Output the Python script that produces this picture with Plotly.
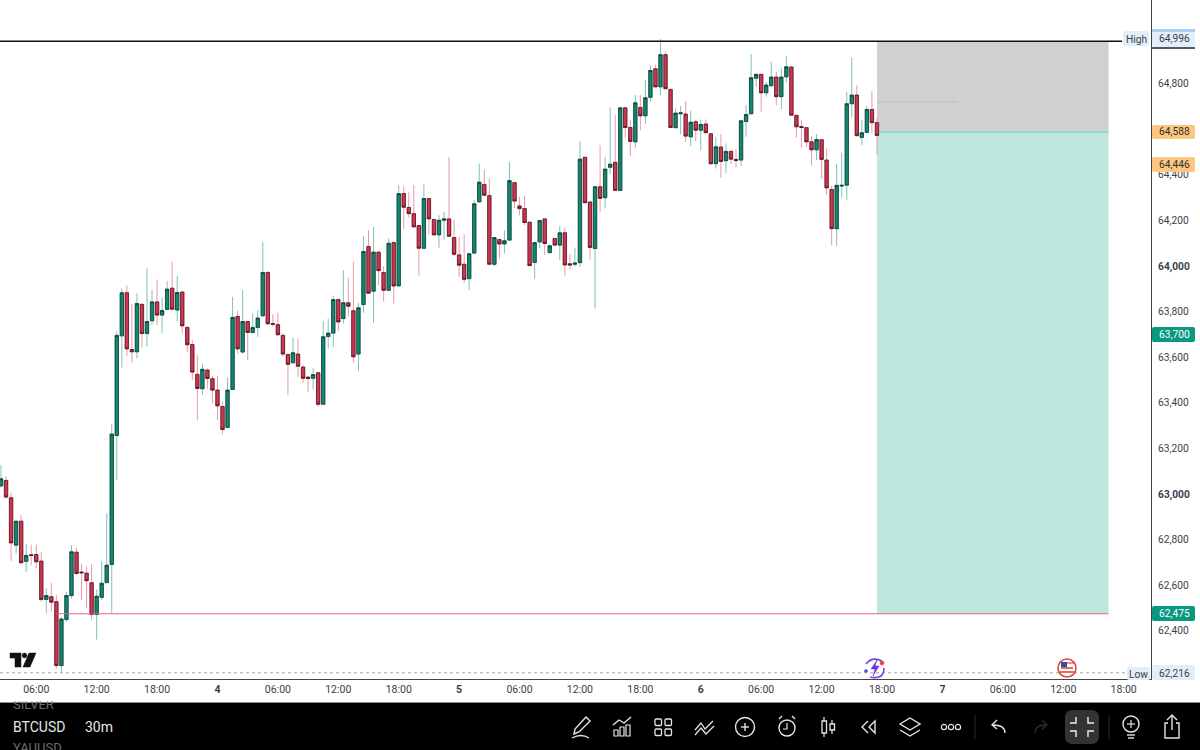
import pandas as pd
import plotly.graph_objects as go

# BTCUSD 30m, values
first_bar = "2024-10-03 02:30"

opens = [63036, 63060, 62984, 62776, 62881, 62705, 62734, 62735, 62706, 62538, 62550, 62528, 62248, 62450, 62555,
         62745, 62658, 62653, 62611, 62472, 62547, 62612, 62691, 63257, 63694, 63883, 63634, 63624, 63832, 63704,
         63760, 63843, 63785, 63810, 63903, 63807, 63886, 63731, 63656, 63525, 63462, 63544, 63506, 63456, 63384,
         63292, 63459, 63779, 63623, 63757, 63709, 63731, 63782, 63972, 63748, 63743, 63696, 63612, 63576, 63614,
         63557, 63513, 63508, 63532, 63394, 63691, 63706, 63853, 63770, 63839, 63804, 63614, 63831, 64086, 63890,
         64061, 63972, 63894, 64103, 63913, 64318, 64257, 64230, 64178, 64078, 64296, 64204, 64137, 64201, 64207,
         64125, 64049, 64008, 63945, 64057, 64282, 64358, 64309, 64008, 64116, 64097, 64114, 64366, 64264, 64252,
         64192, 64016, 64106, 64207, 64059, 64121, 64092, 64146, 64010, 64008, 64015, 64477, 64281, 64077, 64348,
         64300, 64433, 64455, 64332, 64694, 64608, 64545, 64696, 64659, 64740, 64865, 64786, 64927, 64775, 64607,
         64668, 64667, 64567, 64633, 64596, 64623, 64580, 64449, 64522, 64462, 64503, 64468, 64465, 64634, 64668,
         64824, 64841, 64760, 64791, 64829, 64743, 64830, 64873, 64661, 64612, 64607, 64545, 64510, 64554, 64465,
         64336, 64164, 64351, 64355, 64712, 64750, 64564, 64586, 64687, 64629]
highs = [63127, 63079, 63006, 62883, 62908, 62781, 62778, 62778, 62747, 62586, 62611, 62557, 62462, 62571, 62776,
         62764, 62693, 62681, 62693, 62582, 62706, 62915, 63307, 63715, 63902, 63915, 63833, 63880, 63836, 63990,
         63897, 63941, 63862, 63935, 64019, 63956, 63889, 63737, 63675, 63609, 63573, 63551, 63517, 63517, 63405,
         63512, 63865, 63804, 63895, 63759, 63792, 63807, 64105, 63979, 63789, 63795, 63707, 63617, 63685, 63682,
         63565, 63517, 63551, 63535, 63760, 63770, 63869, 63858, 63982, 63948, 64019, 63839, 64131, 64157, 64172,
         64065, 64000, 64121, 64109, 64355, 64350, 64323, 64355, 64179, 64359, 64299, 64209, 64223, 64238, 64479,
         64204, 64128, 64140, 64058, 64289, 64450, 64423, 64384, 64125, 64121, 64157, 64457, 64369, 64304, 64308,
         64198, 64106, 64201, 64210, 64093, 64124, 64176, 64169, 64052, 64081, 64548, 64479, 64282, 64348, 64531,
         64479, 64696, 64662, 64696, 64699, 64640, 64750, 64750, 64816, 64881, 64884, 64996, 64940, 64776, 64691,
         64702, 64724, 64680, 64640, 64643, 64643, 64582, 64567, 64579, 64538, 64509, 64512, 64637, 64706, 64930,
         64845, 64842, 64808, 64896, 64852, 64871, 64921, 64877, 64662, 64640, 64611, 64570, 64579, 64555, 64516,
         64351, 64447, 64497, 64765, 64915, 64794, 64640, 64702, 64767, 64648]
lows = [63029, 62981, 62707, 62740, 62696, 62659, 62688, 62674, 62528, 62476, 62484, 62235, 62216, 62440, 62542,
        62645, 62535, 62498, 62450, 62362, 62535, 62608, 62479, 63061, 63555, 63605, 63576, 63595, 63642, 63646,
        63741, 63741, 63707, 63807, 63807, 63756, 63704, 63624, 63500, 63324, 63434, 63463, 63397, 63324, 63263,
        63288, 63456, 63617, 63617, 63588, 63704, 63690, 63778, 63745, 63734, 63693, 63602, 63434, 63573, 63514,
        63489, 63448, 63459, 63383, 63390, 63638, 63646, 63714, 63748, 63780, 63576, 63540, 63795, 63880, 63752,
        63916, 63846, 63891, 63836, 63912, 64163, 64213, 64169, 63956, 64076, 64140, 64134, 64081, 64116, 64128,
        64043, 63953, 63926, 63894, 64052, 64277, 64308, 64005, 64000, 64033, 64055, 64111, 64255, 64223, 64179,
        64000, 63945, 64077, 64048, 64055, 64089, 64026, 63957, 63985, 63997, 63997, 64275, 64029, 63814, 64238,
        64253, 64403, 64330, 64330, 64564, 64482, 64520, 64596, 64623, 64721, 64784, 64750, 64775, 64605, 64604,
        64579, 64545, 64526, 64548, 64506, 64582, 64446, 64428, 64387, 64409, 64447, 64433, 64439, 64567, 64667,
        64786, 64677, 64743, 64786, 64706, 64687, 64804, 64659, 64564, 64520, 64523, 64440, 64465, 64384, 64311,
        64092, 64088, 64301, 64289, 64652, 64570, 64531, 64582, 64582, 64490]
closes = [63067, 62987, 62786, 62881, 62699, 62731, 62731, 62703, 62538, 62555, 62526, 62248, 62452, 62555, 62747,
          62652, 62655, 62620, 62472, 62552, 62609, 62688, 63263, 63696, 63883, 63637, 63624, 63836, 63704, 63757,
          63843, 63785, 63805, 63899, 63811, 63884, 63738, 63655, 63535, 63463, 63547, 63507, 63456, 63387, 63283,
          63456, 63775, 63637, 63757, 63709, 63731, 63772, 63972, 63747, 63745, 63699, 63614, 63569, 63620, 63561,
          63508, 63507, 63524, 63394, 63690, 63706, 63853, 63755, 63839, 63824, 63602, 63817, 64064, 63881, 64061,
          63980, 63894, 64100, 63913, 64318, 64258, 64230, 64172, 64078, 64296, 64207, 64137, 64201, 64207, 64131,
          64052, 64004, 63942, 64054, 64273, 64368, 64311, 64008, 64125, 64097, 64111, 64375, 64285, 64252, 64191,
          64002, 64103, 64200, 64099, 64089, 64092, 64146, 64005, 64005, 64013, 64469, 64278, 64082, 64348, 64297,
          64425, 64447, 64332, 64694, 64608, 64547, 64716, 64659, 64738, 64858, 64786, 64927, 64778, 64608, 64671,
          64672, 64570, 64631, 64596, 64621, 64585, 64449, 64523, 64459, 64503, 64469, 64463, 64637, 64665, 64826,
          64841, 64760, 64794, 64829, 64743, 64829, 64874, 64662, 64611, 64608, 64545, 64510, 64555, 64468, 64343,
          64164, 64354, 64354, 64712, 64750, 64572, 64585, 64687, 64629, 64573]

# axis labels
price_ticks = [65000, 64800, 64600, 64400, 64200, 64000, 63800, 63600, 63400, 63200, 63000, 62800, 62600, 62400]
time_ticks = ["2024-10-03 06:00", "2024-10-03 12:00", "2024-10-03 18:00", "2024-10-04 00:00", "2024-10-04 06:00",
              "2024-10-04 12:00", "2024-10-04 18:00", "2024-10-05 00:00", "2024-10-05 06:00", "2024-10-05 12:00",
              "2024-10-05 18:00", "2024-10-06 00:00", "2024-10-06 06:00", "2024-10-06 12:00", "2024-10-06 18:00",
              "2024-10-07 00:00", "2024-10-07 06:00", "2024-10-07 12:00", "2024-10-07 18:00"]
time_labels = ["06:00", "12:00", "18:00", "4", "06:00", "12:00", "18:00", "5", "06:00", "12:00",
               "18:00", "6", "06:00", "12:00", "18:00", "7", "06:00", "12:00", "18:00"]

# levels of the position tool
top_level = 64986
entry_level = 64588
target_level = 62475
low_level = 62216
tool_start = "2024-10-06 17:30"
tool_end = "2024-10-07 16:30"

GREEN = "#14866f"
RED = "#d23550"
FONT = "Roboto"
TEXT = "#3b3e47"

# plot area in screen pixels, used for the toolbar drawings
W_PLOT = 1151
H_PLOT = 679


def px(x):
    return x / W_PLOT


def py(y):
    return (H_PLOT - y) / H_PLOT


times = pd.date_range(first_bar, periods=len(opens), freq="30min")
body_hi = [max(o, c) for o, c in zip(opens, closes)]
body_lo = [min(o, c) for o, c in zip(opens, closes)]

fig = go.Figure()
# wicks, pale
fig.add_trace(go.Candlestick(
    x=times, open=opens, high=highs, low=lows, close=closes,
    whiskerwidth=0,
    increasing=dict(line=dict(color="#7cc4b6", width=1), fillcolor=GREEN),
    decreasing=dict(line=dict(color="#e79aa8", width=1), fillcolor=RED),
    showlegend=False, hoverinfo="skip",
))
# bodies with the dark outline
fig.add_trace(go.Candlestick(
    x=times, open=opens, high=body_hi, low=body_lo, close=closes,
    whiskerwidth=0,
    increasing=dict(line=dict(color="#10302a", width=0.7), fillcolor=GREEN),
    decreasing=dict(line=dict(color="#3a1018", width=0.7), fillcolor=RED),
    showlegend=False,
))

shapes = []
notes = []


def path(pts, color="#e6e6e6", width=1.4, fill=None, close=False):
    d = "M" + " L".join(f"{px(x):.5f},{py(y):.5f}" for x, y in pts) + (" Z" if close else "")
    shapes.append(dict(type="path", path=d, xref="paper", yref="paper", layer="above",
                       line=dict(color=color, width=width), fillcolor=fill))


def curve(x0, y0, cx, cy, x1, y1, color="#e6e6e6", width=1.4):
    d = f"M{px(x0):.5f},{py(y0):.5f} Q{px(cx):.5f},{py(cy):.5f} {px(x1):.5f},{py(y1):.5f}"
    shapes.append(dict(type="path", path=d, xref="paper", yref="paper", layer="above",
                       line=dict(color=color, width=width)))


def circle(cx, cy, r, color="#e6e6e6", width=1.4, fill=None):
    shapes.append(dict(type="circle", xref="paper", yref="paper", layer="above",
                       x0=px(cx - r), x1=px(cx + r), y0=py(cy + r), y1=py(cy - r),
                       line=dict(color=color, width=width), fillcolor=fill))


def rect(x0, y0, x1, y1, fill, color=None, width=0):
    shapes.append(dict(type="rect", xref="paper", yref="paper", layer="above",
                       x0=px(x0), x1=px(x1), y0=py(y1), y1=py(y0),
                       line=dict(color=color or fill, width=width), fillcolor=fill))


def rrect(x0, y0, x1, y1, r, fill=None, color=None, width=0):
    d = (f"M{px(x0 + r):.5f},{py(y0):.5f} L{px(x1 - r):.5f},{py(y0):.5f} "
         f"Q{px(x1):.5f},{py(y0):.5f} {px(x1):.5f},{py(y0 + r):.5f} L{px(x1):.5f},{py(y1 - r):.5f} "
         f"Q{px(x1):.5f},{py(y1):.5f} {px(x1 - r):.5f},{py(y1):.5f} L{px(x0 + r):.5f},{py(y1):.5f} "
         f"Q{px(x0):.5f},{py(y1):.5f} {px(x0):.5f},{py(y1 - r):.5f} L{px(x0):.5f},{py(y0 + r):.5f} "
         f"Q{px(x0):.5f},{py(y0):.5f} {px(x0 + r):.5f},{py(y0):.5f} Z")
    shapes.append(dict(type="path", path=d, xref="paper", yref="paper", layer="above",
                       line=dict(color=color or fill or "#e6e6e6", width=width), fillcolor=fill))


def note(x, y, text, color=TEXT, size=10.2, anchor="center", **kw):
    notes.append(dict(x=px(x), y=py(y), xref="paper", yref="paper", text=text, showarrow=False,
                      xanchor=anchor, yanchor="middle", font=dict(family=FONT, size=size, color=color), **kw))


# position tool, behind the candles
fig.add_shape(type="rect", xref="x", yref="y", x0=tool_start, x1=tool_end, y0=entry_level, y1=top_level,
              fillcolor="#d0d0d0", line_width=0, layer="below")
fig.add_shape(type="rect", xref="x", yref="y", x0=tool_start, x1=tool_end, y0=target_level, y1=entry_level,
              fillcolor="#bfe6df", line_width=0, layer="below")
fig.add_shape(type="line", xref="x", yref="y", x0=tool_start, x1=tool_end, y0=entry_level, y1=entry_level,
              line=dict(color="#8fd3c6", width=1.5), layer="below")
fig.add_shape(type="line", xref="x", yref="y", x0=tool_start, x1="2024-10-07 01:30", y0=64720, y1=64720,
              line=dict(color="#bdbdbd", width=1), layer="below")
# level lines
fig.add_shape(type="line", xref="paper", yref="y", x0=0, x1=px(1122), y0=top_level, y1=top_level,
              line=dict(color="#111111", width=1.5))
fig.add_shape(type="line", xref="x", yref="y", x0="2024-10-03 08:00", x1=tool_end, y0=target_level, y1=target_level,
              line=dict(color="#dd6392", width=1.1))
fig.add_shape(type="line", xref="paper", yref="y", x0=0, x1=px(1127), y0=low_level, y1=low_level,
              line=dict(color="#a8a8a8", width=1, dash="dot"))

# price labels on the axis
rrect(1123, 31, 1149, 46, 2, fill="#e3eefb")
note(1136, 39, "High")
rrect(1152, 29, 1195, 47, 2, fill="#e3eefb")
rect(1152, 29, 1195, 32, "#a9cdf5")
path([(1152, 48), (1195, 48)], color="#222222", width=1.5)
note(1174, 38, "64,996")
rrect(1152, 125, 1195, 139, 2, fill="#fdc77f")
note(1174, 132, "64,588", color="#33302a")
rrect(1152, 157, 1195, 172, 2, fill="#fdc77f")
note(1174, 164, "64,446", color="#33302a")
rrect(1152, 327, 1195, 342, 2, fill="#089981")
note(1174, 334.5, "63,700", color="#ffffff")
rrect(1152, 606, 1195, 621, 2, fill="#089981")
note(1174, 613.5, "62,475", color="#ffffff")
rrect(1127, 667, 1150, 680, 2, fill="#e3eefb")
note(1138, 674, "Low")
rrect(1152, 665, 1195, 680, 2, fill="#e3eefb")
note(1174, 673, "62,216")

# TradingView logo
path([(10, 653), (21, 653), (21, 667), (15, 667), (15, 658), (10, 658)], color="#111111", width=0.5, fill="#111111", close=True)
circle(24.5, 655.5, 2.4, color="#111111", width=0.5, fill="#111111")
path([(29, 653), (36, 653), (30, 667), (23, 667)], color="#111111", width=0.5, fill="#111111", close=True)

# event icons on the time scale
curve(866, 664, 872, 656, 882, 661, color="#7b3fe4", width=1.6)
curve(884, 668, 884, 680, 870, 677, color="#7b3fe4", width=1.6)
path([(877, 660), (871, 669), (875, 669), (873, 676), (879, 666), (875, 666)], color="#6a35d8", width=0.5, fill="#6a35d8", close=True)
circle(882, 663, 2, color="#ea3b4a", width=0.5, fill="#ea3b4a")
path([(864, 671), (866, 669), (868, 671), (866, 673)], color="#4a5be8", width=0.5, fill="#4a5be8", close=True)
circle(1067, 668, 9, color="#e2453f", width=1.6, fill="#ffffff")
path([(1061, 668), (1073, 668)], color="#e2453f", width=1.6)
path([(1060, 672), (1074, 672)], color="#e2453f", width=1.6)
rect(1061, 662, 1067, 667, "#2f4fa8")
path([(1067, 663), (1074, 663)], color="#e2453f", width=1.2)

# black toolbar
rect(0, 703, 1200, 750, "#000000")
path([(0, 702.5), (1200, 702.5)], color="#8a8a8a", width=1)
note(11, 727, "BTCUSD", color="#e6e6e6", size=14, anchor="left")
note(83, 727, "30m", color="#e6e6e6", size=14, anchor="left")
note(11, 704, "SILVER", color="#6c6c6c", size=13, anchor="left")
note(11, 747, "YAUUSD", color="#6c6c6c", size=13, anchor="left")
# white strip hides the top of the scrolled-away symbol
notes.append(dict(x=px(8), y=py(702), xref="paper", yref="paper", text=" ", showarrow=False, xanchor="left",
                  yanchor="bottom", width=52, height=5, bgcolor="#ffffff", borderpad=0))

# pen
path([(586, 717), (590, 721), (579, 732), (574, 734), (575, 729)], close=True)
curve(572, 738, 581, 733, 589, 738)
# indicators
path([(613, 725), (619, 720), (624, 723), (631, 717)])
rect(614, 730, 618, 736, "#000000", "#e6e6e6", 1.2)
rect(620, 727, 624, 736, "#000000", "#e6e6e6", 1.2)
rect(626, 725, 630, 736, "#000000", "#e6e6e6", 1.2)
# layouts
for gx in (655, 665):
    for gy in (719, 729):
        rrect(gx, gy, gx + 6.5, gy + 6.5, 1.2, color="#e6e6e6", width=1.3)
# drawings
path([(695, 730), (701, 723), (705, 729), (713, 721)], width=1.3)
path([(695, 735), (701, 728), (706, 734), (714, 726)], width=1.3)
# plus
circle(745, 727, 9.5)
path([(741, 727), (749, 727)])
path([(745, 723), (745, 731)])
# alarm
circle(787, 728, 8)
path([(787, 723), (787, 729), (783, 729)], width=1.2)
path([(779, 719), (782, 716)])
path([(795, 719), (792, 716)])
# candle type
path([(824, 717), (824, 737)], width=1.2)
rect(822, 721, 826.5, 733, "#000000", "#e6e6e6", 1.3)
path([(832, 720), (832, 734)], width=1.2)
rect(830, 724, 834.5, 730, "#000000", "#e6e6e6", 1.3)
# replay
path([(868, 721), (862, 727), (868, 733)])
path([(875, 721), (869, 727), (875, 733)], close=True)
# layers
path([(900, 724), (910, 718), (920, 724), (910, 730)], close=True)
path([(900, 730), (910, 736), (920, 730)])
# more
for dx in (944, 951, 958):
    circle(dx, 727, 2.6, width=1.2)
path([(975, 715), (975, 739)], color="#2c2c2c", width=1)
# undo, redo
curve(1005, 733, 1005, 725, 993, 725)
path([(997, 720), (992, 725), (997, 729)])
curve(1035, 733, 1035, 725, 1046, 725, color="#2c2c2c")
path([(1042, 720), (1047, 725), (1042, 729)], color="#2c2c2c")
# exit full screen
rrect(1065, 710, 1099, 744, 8, fill="#333333")
path([(1076, 717), (1076, 723), (1070, 723)], color="#f0f0f0")
path([(1088, 717), (1088, 723), (1094, 723)], color="#f0f0f0")
path([(1076, 737), (1076, 731), (1070, 731)], color="#f0f0f0")
path([(1088, 737), (1088, 731), (1094, 731)], color="#f0f0f0")
path([(1109, 715), (1109, 739)], color="#2c2c2c", width=1)
# ideas
circle(1131, 724, 8)
path([(1127, 724), (1135, 724)], width=1.2)
path([(1131, 720), (1131, 728)], width=1.2)
path([(1127, 735), (1135, 735)])
path([(1128, 738), (1134, 738)])
# share
path([(1168, 723), (1165, 723), (1165, 738), (1179, 738), (1179, 723), (1176, 723)])
path([(1172, 730), (1172, 715)])
path([(1167, 720), (1172, 715), (1177, 720)])

for s in shapes:
    fig.add_shape(**s)

fig.update_layout(
    width=1200, height=750,
    margin=dict(l=0, r=49, t=0, b=71),
    paper_bgcolor="#ffffff", plot_bgcolor="#ffffff",
    font=dict(family=FONT, size=10.5, color=TEXT),
    showlegend=False,
    boxgap=0.05,
    annotations=notes,
    xaxis=dict(
        type="date", rangeslider=dict(visible=False),
        range=["2024-10-03 02:24", "2024-10-07 20:43"],
        tickmode="array", tickvals=time_ticks,
        ticktext=[f"<b>{t}</b>" if len(t) == 1 else t for t in time_labels],
        showgrid=False, zeroline=False, ticks="", showline=True, linecolor="#444444", linewidth=1,
        tickfont=dict(family=FONT, size=10.5, color=TEXT),
    ),
    yaxis=dict(
        side="right", range=[62189, 65167],
        tickmode="array", tickvals=price_ticks,
        ticktext=[f"<b>{p:,}</b>" if p % 1000 == 0 else f"{p:,}" for p in price_ticks],
        showgrid=False, zeroline=False, ticks="", ticklabelstandoff=4,
        showline=True, linecolor="#444444", linewidth=1,
        tickfont=dict(family=FONT, size=10.2, color=TEXT),
    ),
)

# the page margin would push the chart off the window
fig.write_html("out.html", post_script="document.body.style.margin='0';", config=dict(displayModeBar=False))
